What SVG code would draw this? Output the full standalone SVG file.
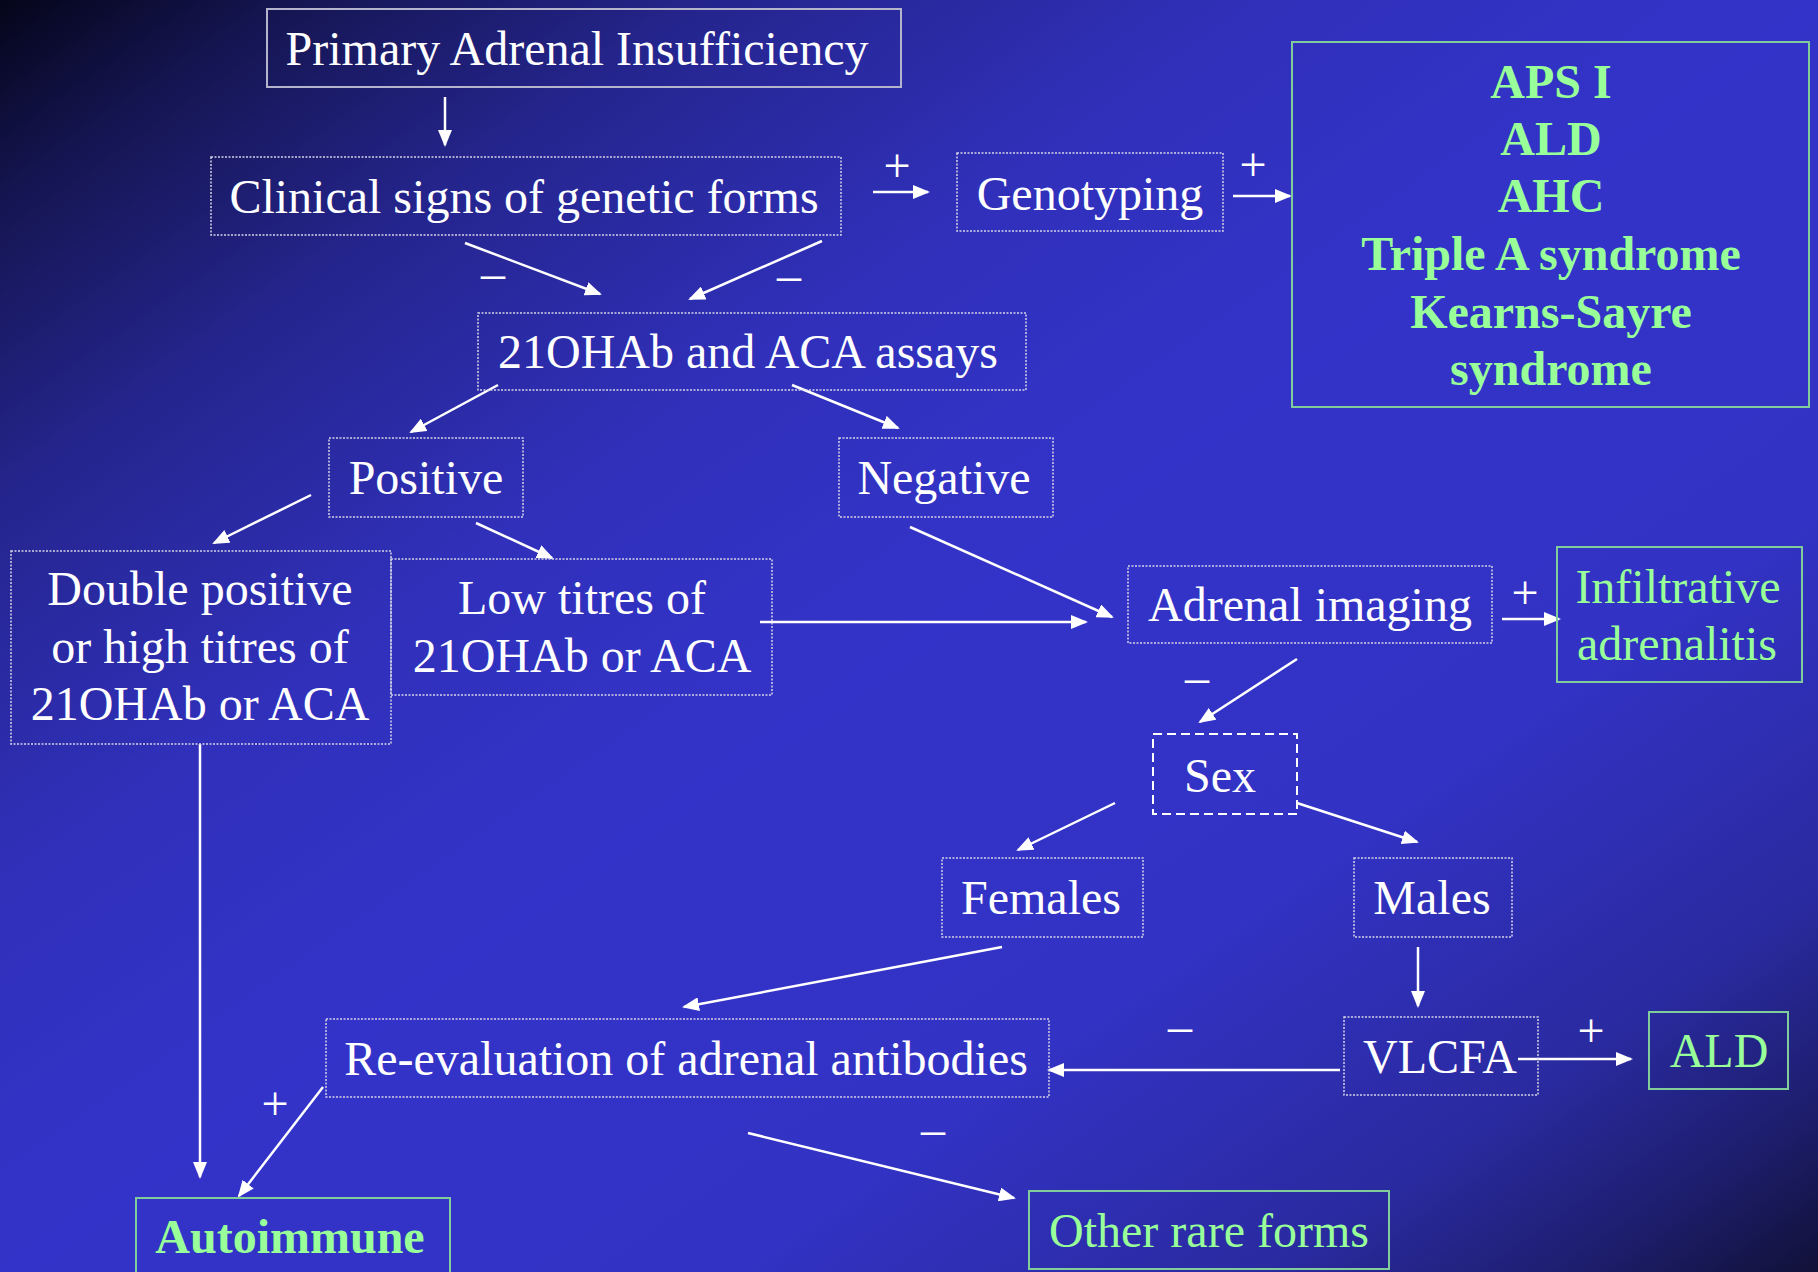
<svg xmlns="http://www.w3.org/2000/svg" width="1818" height="1272" viewBox="0 0 1818 1272">
<style>
text{font-family:"Liberation Serif","Times New Roman",serif;font-size:48px;fill:#ffffff}
.c{text-anchor:middle}
.g{fill:#99ff99}
.b{font-weight:bold}
.box{fill:none;stroke:#d4d4e8;stroke-width:1.5;stroke-dasharray:2 1.5}
.solid{fill:none;stroke:#b4b4cc;stroke-width:2}
.gbox{fill:none;stroke:#80cc9a;stroke-width:2}
.dash{fill:none;stroke:#ffffff;stroke-width:2;stroke-dasharray:9 5}
.arr{fill:none;stroke:#ffffff;stroke-width:2.5;marker-end:url(#ah)}
.sign{text-anchor:middle}
</style>
<defs>
<linearGradient id="bg" x1="0" y1="0" x2="1" y2="1">
<stop offset="0" stop-color="#05051a"/>
<stop offset="0.08" stop-color="#151552"/>
<stop offset="0.2" stop-color="#25258f"/>
<stop offset="0.35" stop-color="#3030bb"/>
<stop offset="0.5" stop-color="#3333c9"/>
<stop offset="0.7" stop-color="#3232c4"/>
<stop offset="0.85" stop-color="#2a2aa0"/>
<stop offset="0.93" stop-color="#1e1e70"/>
<stop offset="1" stop-color="#111138"/>
</linearGradient>
<marker id="ah" markerUnits="userSpaceOnUse" markerWidth="17" markerHeight="14" refX="15" refY="7" orient="auto">
<path d="M0,0 L17,7 L0,14 z" fill="#ffffff"/>
</marker>
</defs>
<rect x="0" y="0" width="1818" height="1272" fill="url(#bg)"/>

<g id="connectors">
<line class="arr" x1="445" y1="97" x2="445" y2="145"/>
<line class="arr" x1="873" y1="192" x2="928" y2="192"/>
<line class="arr" x1="1233" y1="196" x2="1290" y2="196"/>
<line class="arr" x1="465" y1="243" x2="600" y2="294"/>
<line class="arr" x1="822" y1="241" x2="690" y2="299"/>
<line class="arr" x1="498" y1="385" x2="411" y2="432"/>
<line class="arr" x1="792" y1="385" x2="898" y2="428"/>
<line class="arr" x1="311" y1="495" x2="214" y2="543"/>
<line class="arr" x1="476" y1="523" x2="552" y2="558"/>
<line class="arr" x1="760" y1="622" x2="1086" y2="622"/>
<line class="arr" x1="910" y1="527" x2="1112" y2="617"/>
<line class="arr" x1="1502" y1="619" x2="1559" y2="619"/>
<line class="arr" x1="1297" y1="659" x2="1200" y2="722"/>
<line class="arr" x1="1115" y1="803" x2="1018" y2="850"/>
<line class="arr" x1="1297" y1="803" x2="1417" y2="842"/>
<line class="arr" x1="1418" y1="947" x2="1418" y2="1006"/>
<line class="arr" x1="1518" y1="1059" x2="1631" y2="1059"/>
<line class="arr" x1="1340" y1="1070" x2="1049" y2="1070"/>
<line class="arr" x1="1002" y1="947" x2="684" y2="1007"/>
<line class="arr" x1="323" y1="1087" x2="239" y2="1196"/>
<line class="arr" x1="200" y1="744" x2="200" y2="1177"/>
<line class="arr" x1="748" y1="1133" x2="1014" y2="1198"/>
<text class="sign" x="897" y="182">+</text>
<text class="sign" x="1253" y="181">+</text>
<text class="sign" x="493" y="289">–</text>
<text class="sign" x="789" y="291">–</text>
<text class="sign" x="1525" y="609">+</text>
<text class="sign" x="1197" y="693">–</text>
<text class="sign" x="1591" y="1047">+</text>
<text class="sign" x="1180" y="1042">–</text>
<text class="sign" x="275" y="1120">+</text>
<text class="sign" x="933" y="1145">–</text>
</g>

<g id="primary">
<rect class="solid" x="267" y="9" width="634" height="78"/>
<text class="c" x="577" y="65">Primary Adrenal Insufficiency</text>
</g>
<g id="clinical">
<rect class="box" x="211" y="157" width="630" height="78"/>
<text class="c" x="524" y="213">Clinical signs of genetic forms</text>
</g>
<g id="genotyping">
<rect class="box" x="957" y="153" width="266" height="78"/>
<text class="c" x="1090" y="210">Genotyping</text>
</g>
<g id="genetic-forms">
<rect class="gbox" x="1292" y="42" width="517" height="365"/>
<text class="c g b" x="1551" y="98">APS I</text>
<text class="c g b" x="1551" y="155">ALD</text>
<text class="c g b" x="1551" y="212">AHC</text>
<text class="c g b" x="1551" y="270">Triple A syndrome</text>
<text class="c g b" x="1551" y="328">Kearns-Sayre</text>
<text class="c g b" x="1551" y="385">syndrome</text>
</g>
<g id="assays">
<rect class="box" x="478" y="313" width="548" height="77"/>
<text class="c" x="748" y="368">21OHAb and ACA assays</text>
</g>
<g id="positive">
<rect class="box" x="329" y="438" width="194" height="79"/>
<text class="c" x="426" y="494">Positive</text>
</g>
<g id="negative">
<rect class="box" x="839" y="438" width="214" height="79"/>
<text class="c" x="944" y="494">Negative</text>
</g>
<g id="double-positive">
<rect class="box" x="11" y="551" width="380" height="193"/>
<text class="c" x="200" y="605">Double positive</text>
<text class="c" x="200" y="663">or high titres of</text>
<text class="c" x="200" y="720">21OHAb or ACA</text>
</g>
<g id="low-titres">
<rect class="box" x="391" y="559" width="381" height="136"/>
<text class="c" x="582" y="614">Low titres of</text>
<text class="c" x="582" y="672">21OHAb or ACA</text>
</g>
<g id="adrenal-imaging">
<rect class="box" x="1128" y="566" width="364" height="77"/>
<text class="c" x="1310" y="621">Adrenal imaging</text>
</g>
<g id="infiltrative">
<rect class="gbox" x="1557" y="547" width="245" height="135"/>
<text class="c g" x="1678" y="603">Infiltrative</text>
<text class="c g" x="1677" y="660">adrenalitis</text>
</g>
<g id="sex">
<rect class="dash" x="1153" y="734" width="144" height="80"/>
<text class="c" x="1220" y="792">Sex</text>
</g>
<g id="females">
<rect class="box" x="942" y="858" width="201" height="79"/>
<text class="c" x="1041" y="914">Females</text>
</g>
<g id="males">
<rect class="box" x="1354" y="858" width="158" height="79"/>
<text class="c" x="1432" y="914">Males</text>
</g>
<g id="vlcfa">
<rect class="box" x="1344" y="1017" width="194" height="78"/>
<text class="c" x="1440" y="1073">VLCFA</text>
</g>
<g id="ald">
<rect class="gbox" x="1649" y="1012" width="139" height="77"/>
<text class="c g" x="1719" y="1067">ALD</text>
</g>
<g id="re-evaluation">
<rect class="box" x="326" y="1019" width="723" height="78"/>
<text class="c" x="686" y="1075">Re-evaluation of adrenal antibodies</text>
</g>
<g id="autoimmune">
<rect class="gbox" x="136" y="1198" width="314" height="92"/>
<text class="c g b" x="290" y="1253">Autoimmune</text>
</g>
<g id="other-rare">
<rect class="gbox" x="1029" y="1191" width="360" height="78"/>
<text class="c g" x="1209" y="1247">Other rare forms</text>
</g>
</svg>
